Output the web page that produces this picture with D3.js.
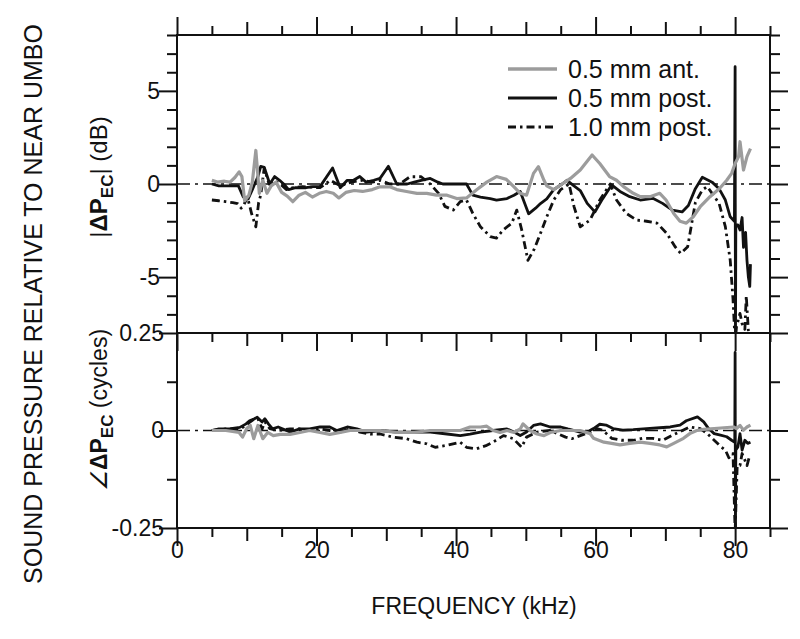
<!DOCTYPE html>
<html><head><meta charset="utf-8">
<script src="https://cdn.jsdelivr.net/npm/d3@7"></script>
<style>
body{margin:0;background:#fff}
text{font-family:"Liberation Sans",Arial,Helvetica,sans-serif;fill:#111}
</style>
</head><body>
<svg id="chart" width="800" height="639"></svg>
<script>
// ---------- DATA ----------
const seriesNames = ["0.5 mm ant.", "0.5 mm post.", "1.0 mm post."];
const xTickLabels = [0, 20, 40, 60, 80];
const magTickLabels = [-5, 0, 5];
const phaseTickLabels = [-0.25, 0, 0.25];

// Magnitude |ΔP_EC| (dB)
const antMagF = [5.0,5.8,6.8,7.6,8.3,8.9,9.3,9.7,10.3,10.8,11.3,11.8,12.3,12.9,13.5,14.2,15.0,15.8,16.6,17.5,18.4,19.4,20.4,21.4,22.4,23.2,24.2,25.4,26.6,28.0,29.1,30.5,31.5,32.9,34.4,35.8,37.2,38.7,40.1,41.5,43.0,44.4,45.8,47.2,48.3,49.2,50.1,51.1,51.8,52.6,53.0,54.0,55.2,56.4,57.8,59.5,60.6,62.0,63.0,64.0,65.4,66.4,67.8,69.2,70.1,71.2,72.1,73.0,74.0,75.0,76.4,77.8,78.8,79.5,80.0,80.5,80.7,81.2,81.7,82.2];
const antMag  = [0.2,0.1,0.15,0.1,0.35,0.65,0.4,-0.9,-0.6,0.1,1.8,-0.5,0.2,-0.5,-0.1,0.1,-0.45,-0.65,-0.95,-0.6,-0.45,-0.7,-0.5,-0.4,-0.5,-0.75,-0.45,-0.35,-0.4,-0.3,-0.15,-0.15,-0.3,-0.4,-0.5,-0.5,-0.6,-0.6,-0.78,-0.75,-0.3,0.1,0.4,0.25,-0.15,-0.5,-0.6,0.57,0.93,0.2,-0.1,-0.3,0.0,0.3,0.75,1.56,1.1,0.4,0.2,-0.14,-0.5,-0.68,-0.68,-0.5,-0.86,-1.58,-2.0,-2.1,-1.76,-1.22,-0.68,-0.23,0.2,0.57,1.1,1.47,2.27,0.75,1.47,1.9];

const postMagF = [5.0,6.0,7.0,8.0,8.8,9.5,10.2,10.8,11.6,12.0,12.5,13.3,14.0,14.7,15.3,16.0,17.0,18.5,19.5,20.5,22.3,23.4,24.4,25.3,26.2,27.1,28.2,29.1,30.3,31.5,33.0,34.0,35.0,36.3,37.4,38.1,39.1,40.6,41.5,42.4,43.5,44.9,45.8,47.3,48.3,49.2,50.4,51.4,52.1,53.0,54.0,55.2,55.9,56.9,57.8,58.8,59.9,61.0,62.3,63.5,64.9,66.4,68.2,69.6,71.0,72.4,73.3,74.3,75.3,76.7,77.7,78.6,79.3,79.9,80.0,80.05,80.1,80.4,80.7,81.0,81.2,81.5,81.7,81.9,82.1,82.2];
const postMag  = [0.0,-0.1,-0.1,-0.1,-0.1,-0.7,-0.8,-0.3,0.4,0.95,0.9,0.0,0.4,0.2,0.0,-0.3,-0.2,-0.2,-0.14,-0.14,0.86,-0.2,0.2,0.2,0.4,0.1,0.2,0.3,0.95,0.0,0.0,0.1,0.2,0.3,0.1,0.0,0.0,0.0,0.0,-0.6,-0.7,-0.78,-0.86,-0.78,-0.6,-0.4,-1.6,-1.3,-1.05,-0.8,-0.3,0.0,0.2,-0.1,-0.35,-1.04,-1.5,-0.8,-0.05,-0.4,-0.68,-0.86,-0.77,-1.04,-1.4,-1.5,-1.15,-0.25,0.36,0.1,-0.25,-0.86,-1.76,-2.0,6.3,-9.0,-2.2,-2.2,-2.47,-1.8,-3.4,-2.6,-4.1,-5.0,-5.5,-4.3];

const post1MagF = [5.0,6.0,7.0,8.0,8.7,9.2,9.6,10.1,10.7,11.3,11.7,12.0,12.5,13.2,13.9,14.8,15.7,16.6,18.0,20.5,22.0,23.4,25.0,26.5,28.0,29.1,30.5,31.9,33.4,35.0,36.3,37.5,38.4,39.6,40.6,41.5,42.4,43.5,44.9,45.8,46.8,48.0,48.7,49.4,50.3,51.2,52.1,53.0,54.0,55.0,56.2,56.9,57.8,59.2,60.6,62.1,63.0,64.4,65.9,67.3,68.8,70.2,71.4,72.2,73.2,73.7,74.3,75.3,76.0,76.7,77.7,78.6,79.3,79.7,80.0,80.2,80.7,81.0,81.4,81.6,81.9];
const post1Mag  = [-0.86,-0.9,-0.95,-1.0,-1.05,-1.3,-1.1,-0.7,-1.6,-2.3,-1.0,-0.6,0.85,0.0,0.2,0.0,-0.3,-0.2,-0.14,-0.2,0.2,-0.1,0.1,0.2,0.1,0.2,0.0,0.0,0.39,0.39,0.0,-0.5,-1.2,-1.4,-0.95,-0.86,-1.58,-2.3,-2.82,-2.9,-2.45,-2.1,-1.4,-2.45,-4.1,-3.5,-2.65,-1.76,-0.86,-0.3,0.0,-1.2,-2.3,-1.94,-0.86,0.0,-0.86,-1.58,-1.94,-2.0,-2.1,-2.65,-3.37,-3.73,-3.37,-2.29,-1.0,-0.32,-0.14,-0.5,-1.04,-2.29,-4.1,-6.2,-8.5,-7.67,-6.95,-7.5,-7.8,-6.0,-7.9];

// Phase ∠ΔP_EC (cycles)
const antPhF = [5.0,7.0,8.9,9.4,10.0,10.5,11.0,11.6,12.3,13.0,13.8,14.8,16.2,17.6,19.0,20.5,21.9,23.4,24.8,26.7,29.1,31.5,34.0,36.3,38.7,40.6,42.0,43.5,44.4,45.3,46.3,47.3,48.3,49.2,49.6,50.6,51.6,52.6,53.5,55.0,57.8,59.2,59.7,61.2,62.3,63.5,64.9,66.4,67.8,69.2,70.2,71.2,72.6,73.5,74.5,75.5,77.0,78.4,79.8,80.2,80.7,81.2,81.7,82.2];
const antPh  = [0.0,0.0,-0.005,-0.017,0.005,0.013,-0.021,0.013,-0.021,-0.005,-0.013,-0.01,-0.01,-0.005,0.0,-0.005,-0.01,-0.005,0.0,0.0,0.0,-0.005,-0.005,0.0,0.0,0.0,0.009,0.009,0.011,0.0,-0.005,0.0,-0.005,0.004,0.017,0.0,-0.009,-0.013,-0.005,0.0,0.0,-0.008,-0.02,-0.03,-0.033,-0.037,-0.033,-0.03,-0.033,-0.037,-0.042,-0.033,-0.02,-0.008,0.0,0.003,0.005,0.007,0.009,0.005,0.013,0.001,0.009,0.014];

const postPhF = [5.0,6.0,7.5,9.0,9.9,10.4,11.1,11.5,12.2,12.6,13.1,13.7,14.5,15.2,16.2,17.6,19.0,20.5,21.9,22.9,24.4,25.8,27.2,29.1,31.5,34.0,36.3,38.7,40.6,42.0,43.5,45.3,47.3,48.3,49.2,50.1,51.1,52.1,53.5,55.0,56.0,57.8,58.8,59.7,60.6,61.5,62.5,63.9,65.4,67.3,69.2,70.7,72.1,73.0,74.6,75.5,76.2,77.0,77.9,78.8,79.5,79.95,80.0,80.05,80.1,80.4,80.7,81.0,81.4,81.8,82.2];
const postPh  = [0.0,0.004,0.004,0.008,0.017,0.025,0.03,0.034,0.022,0.03,0.017,0.004,0.009,0.004,-0.004,0.004,0.004,0.009,0.009,0.0,0.009,0.004,-0.004,0.0,-0.004,-0.004,-0.004,-0.009,-0.013,-0.009,-0.004,0.0,0.004,-0.004,-0.013,-0.004,0.013,0.017,0.009,0.009,0.004,-0.004,-0.004,0.005,0.016,0.014,0.005,0.001,0.002,0.005,0.007,0.009,0.014,0.025,0.035,0.022,0.005,-0.008,-0.012,-0.016,-0.025,-0.03,0.2,-0.27,-0.05,-0.042,-0.008,-0.05,-0.025,-0.033,-0.03];

const post1PhF = [5.0,7.0,9.0,9.9,10.4,11.1,11.6,12.2,12.6,13.3,14.5,16.2,17.6,19.0,20.5,21.9,23.4,24.8,26.2,27.7,29.1,31.0,32.9,34.4,35.8,37.0,38.7,40.6,41.5,42.9,44.4,45.3,46.8,48.2,49.4,50.1,51.6,53.5,55.7,56.6,57.8,59.2,60.2,61.0,62.3,63.7,65.4,66.8,68.2,69.6,71.0,72.1,73.5,75.0,76.0,77.0,78.0,78.6,79.1,79.7,80.0,80.3,80.7,81.0,81.4,81.7,82.0];
const post1Ph  = [0.0,0.004,0.004,0.013,0.021,0.03,0.03,0.004,0.022,0.005,0.0,0.004,0.004,0.0,0.004,0.0,-0.004,0.004,-0.004,-0.009,-0.009,-0.017,-0.021,-0.03,-0.034,-0.043,-0.038,-0.03,-0.043,-0.047,-0.038,-0.03,-0.013,-0.021,-0.043,-0.017,-0.004,0.0,-0.017,-0.021,-0.013,-0.004,0.005,0.001,-0.02,-0.025,-0.025,-0.02,-0.02,-0.025,-0.012,-0.003,0.009,0.005,-0.008,-0.025,-0.042,-0.05,-0.07,-0.059,-0.26,-0.09,-0.09,-0.059,-0.076,-0.09,-0.07];

// ---------- LAYOUT ----------
const svg = d3.select("#chart");
const L = 177, R = 770, T = 35, MID = 333, B = 528;
const FS = 23;
const x = d3.scaleLinear().domain([0, 85]).range([L, R]);
const yMag = d3.scaleLinear().domain([-8, 8]).range([MID, T]);
const yPh = d3.scaleLinear().domain([-0.25, 0.25]).range([B, MID]);

const defs = svg.append("defs");
defs.append("clipPath").attr("id","clipTop").append("rect")
  .attr("x", L).attr("y", T).attr("width", R - L).attr("height", MID - T);
defs.append("clipPath").attr("id","clipBot").append("rect")
  .attr("x", L).attr("y", MID).attr("width", R - L).attr("height", B - MID);

const styles = [
  {stroke:"#9c9c9c", width:3.2, dash:null},
  {stroke:"#111", width:2.8, dash:null},
  {stroke:"#111", width:2.8, dash:"8,4,2.5,4"}
];

// zero reference lines
const zeroDash = "13,5,3,5";
svg.append("line").attr("x1", L).attr("x2", R).attr("y1", yMag(0)).attr("y2", yMag(0))
  .attr("stroke","#111").attr("stroke-width",1.6).attr("stroke-dasharray",zeroDash);
svg.append("line").attr("x1", L).attr("x2", R).attr("y1", yPh(0)).attr("y2", yPh(0))
  .attr("stroke","#111").attr("stroke-width",1.6).attr("stroke-dasharray",zeroDash);

function drawSeries(fs, vs, yScale, clip, st) {
  const pts = fs.map((f, i) => [f, vs[i]]);
  const line = d3.line().x(d => x(d[0])).y(d => yScale(d[1]));
  svg.append("path").datum(pts).attr("d", line).attr("fill","none")
    .attr("clip-path", `url(#${clip})`)
    .attr("stroke", st.stroke).attr("stroke-width", st.width)
    .attr("stroke-linejoin","round")
    .attr("stroke-dasharray", st.dash);
}
drawSeries(post1MagF, post1Mag, yMag, "clipTop", styles[2]);
drawSeries(postMagF, postMag, yMag, "clipTop", styles[1]);
drawSeries(antMagF, antMag, yMag, "clipTop", styles[0]);
drawSeries(post1PhF, post1Ph, yPh, "clipBot", styles[2]);
drawSeries(postPhF, postPh, yPh, "clipBot", styles[1]);
drawSeries(antPhF, antPh, yPh, "clipBot", styles[0]);

// ---------- AXES ----------
const xs20 = d3.range(0, 86, 20);
const xs10 = [10, 30, 50, 70];
const xs5 = [5, 15, 25, 35, 45, 55, 65, 75, 85];
const fmtNum = d => d === 0 ? "0" : String(d);
function styleAxis(g) {
  g.select(".domain").remove();
  g.selectAll(".tick line").attr("stroke","#111").attr("stroke-width",2);
  g.selectAll("text").attr("font-size", FS).attr("font-family","'Liberation Sans',Arial,sans-serif").attr("fill","#111");
}
function xTicks(axisFn, yPos, vals, size) {
  svg.append("g").attr("transform", `translate(0,${yPos})`)
    .call(axisFn(x).tickValues(vals).tickSize(size).tickFormat(""))
    .call(styleAxis);
}
[[d3.axisTop, T], [d3.axisBottom, MID], [d3.axisBottom, B]].forEach(([fn, yp]) => {
  xTicks(fn, yp, xs20, 18);
  xTicks(fn, yp, xs10, 13);
  xTicks(fn, yp, xs5, 9);
});
svg.append("g").attr("transform", `translate(0,${B})`)
  .call(d3.axisBottom(x).tickValues(xTickLabels).tickSize(0).tickPadding(14).tickFormat(fmtNum))
  .call(styleAxis);

function yTicks(axisFn, xPos, scale, vals, size) {
  svg.append("g").attr("transform", `translate(${xPos},0)`)
    .call(axisFn(scale).tickValues(vals).tickSize(size).tickFormat(""))
    .call(styleAxis);
}
const magMinor = d3.range(-7, 9, 1).filter(v => v % 5 !== 0);
const phMinor = [-0.125, 0.125];
[[d3.axisLeft, L], [d3.axisRight, R]].forEach(([fn, xp]) => {
  yTicks(fn, xp, yMag, magMinor, 10);
  yTicks(fn, xp, yMag, magTickLabels, 18);
  yTicks(fn, xp, yPh, phMinor, 10);
  yTicks(fn, xp, yPh, phaseTickLabels, 18);
});
svg.append("g").attr("transform", `translate(${L},0)`)
  .call(d3.axisLeft(yMag).tickValues(magTickLabels).tickSize(0).tickPadding(17).tickFormat(fmtNum))
  .call(styleAxis);
svg.append("g").attr("transform", `translate(${L},0)`)
  .call(d3.axisLeft(yPh).tickValues(phaseTickLabels).tickSize(0).tickPadding(13).tickFormat(fmtNum))
  .call(styleAxis);

// frame
svg.append("rect").attr("x", L).attr("y", T).attr("width", R - L).attr("height", B - T)
  .attr("fill","none").attr("stroke","#111").attr("stroke-width",2);
svg.append("line").attr("x1", L).attr("x2", R).attr("y1", MID).attr("y2", MID)
  .attr("stroke","#111").attr("stroke-width",2);

// ---------- TITLES ----------
svg.append("text").attr("x", 474).attr("y", 614).attr("text-anchor","middle")
  .attr("font-size", 23).text("FREQUENCY (kHz)");
svg.append("text").attr("transform","translate(42,304) rotate(-90)")
  .attr("text-anchor","middle").attr("font-size", 25)
  .text("SOUND PRESSURE RELATIVE TO NEAR UMBO");

const t1 = svg.append("text").attr("transform","translate(107,177) rotate(-90)")
  .attr("text-anchor","middle").attr("font-size", 24);
t1.append("tspan").text("|");
t1.append("tspan").attr("font-weight","bold").text("ΔP");
t1.append("tspan").attr("font-weight","bold").attr("font-size",17).attr("dy",6).text("EC");
t1.append("tspan").attr("dy",-6).text("| (dB)");

const t2 = svg.append("text").attr("transform","translate(107,410) rotate(-90)")
  .attr("text-anchor","middle").attr("font-size", 23);
t2.append("tspan").attr("font-style","italic").text("∠");
t2.append("tspan").attr("font-weight","bold").text("ΔP");
t2.append("tspan").attr("font-weight","bold").attr("font-size",17).attr("dy",6).text("EC");
t2.append("tspan").attr("dy",-6).text(" (cycles)");

// ---------- LEGEND ----------
const legY = [69, 98, 127];
seriesNames.forEach((name, i) => {
  const st = styles[i];
  svg.append("line").attr("x1", 508).attr("x2", 557).attr("y1", legY[i]).attr("y2", legY[i])
    .attr("stroke", st.stroke).attr("stroke-width", st.width + 0.4).attr("stroke-dasharray", st.dash);
  svg.append("text").attr("x", 568).attr("y", legY[i] + 9).attr("font-size", 25).text(name);
});
</script>
</body></html>
